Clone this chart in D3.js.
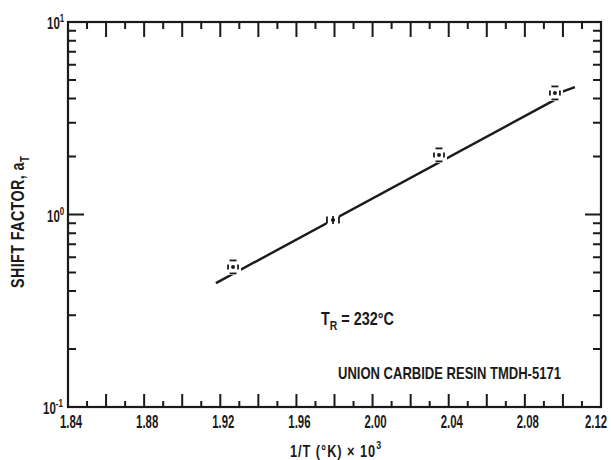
<!DOCTYPE html>
<html>
<head>
<meta charset="utf-8">
<script src="https://cdn.jsdelivr.net/npm/d3@7"></script>
</head>
<body style="margin:0;background:#fff">
<svg id="chart" width="611" height="460"></svg>
<script>
// Reciprocal absolute temperature (1/T x 10^3) and the measured shift factor a_T
const invTemp = [1.9267, 1.9792, 2.0349, 2.0958];
const shiftFactor = [0.534, 0.936, 2.04, 4.28];
const markerKind = ["box", "bar", "box", "box"];

// Fitted Arrhenius line and its short continuation past the last point
const fitX = [1.9177, 2.0984];
const fitY = [0.44, 4.07];
const tailX = [2.0994, 2.1063];
const tailY = [4.33, 4.59];

// Axis labelling
const xTickLabels = ["1.84", "1.88", "1.92", "1.96", "2.00", "2.04", "2.08", "2.12"];
const yDecades = [0.1, 1, 10];
const yDecadeExp = ["-1", "0", "1"];

const svg = d3.select("#chart");
const FONT = "'Liberation Sans', Arial, sans-serif";
const INK = "#1a1a1a";

const x = d3.scaleLinear().domain([1.84, 2.12]).range([68, 601]);
const y = d3.scaleLog().domain([0.1, 10]).range([407, 22]);
const plotL = x.range()[0], plotR = x.range()[1];
const plotB = y.range()[0], plotT = y.range()[1];

// tick positions: every 0.01 on x, 2..9 per decade plus the middle decade on y
const xTicks = d3.range(1, 28).map(i => +(1.84 + i * 0.01).toFixed(2));
const yTicks = [];
[0.1, 1].forEach(d => { for (let k = 2; k <= 9; k++) yTicks.push(+(k * d).toFixed(3)); });
yTicks.push(1);

const isLongX = v => Math.round(v * 100) % 2 === 0;
const isDecade = v => Math.abs(Math.log10(v)) < 1e-6;

// condensed lettering helper
function letter(parent, px, py, size, anchor, sx, rot) {
  const r = rot ? ` rotate(${rot})` : "";
  return parent.append("text")
    .attr("transform", `translate(${px},${py})${r} scale(${sx},1)`)
    .attr("text-anchor", anchor)
    .attr("font-family", FONT)
    .attr("font-weight", "bold")
    .attr("font-size", size)
    .attr("fill", INK);
}

// x tick labels
xTickLabels.forEach((s, i) => {
  const cx = i === xTickLabels.length - 1 ? x(+s) - 5 : x(+s) + 3;
  letter(svg, cx, 428, 19, "middle", 0.6).text(s);
});

// y decade labels 10^n
yDecades.forEach((d, i) => {
  const t = letter(svg, yDecadeExp[i].length > 1 ? 43 : 47, y(d) + 7, 16, "start", 0.72);
  t.append("tspan").text("10");
  t.append("tspan").attr("font-size", 11).attr("dy", -7).text(yDecadeExp[i]);
});

// axis titles
const xTitle = letter(svg, 290, 457, 16, "start", 0.8).attr("letter-spacing", 1.2);
xTitle.append("tspan").text("1/T (°K) × 10");
xTitle.append("tspan").attr("font-size", 11).attr("dy", -8).text("3");

const yTitle = letter(svg, 24, 288, 19, "start", 0.75, -90).attr("letter-spacing", 0.6);
yTitle.append("tspan").text("SHIFT FACTOR, a");
yTitle.append("tspan").attr("font-size", 13).attr("dy", 5).text("T");

// annotations
const tr = letter(svg, 321, 325, 18, "start", 0.8);
tr.append("tspan").text("T");
tr.append("tspan").attr("font-size", 13).attr("dy", 5).text("R");
tr.append("tspan").attr("dy", -5).text(" = 232°C");

letter(svg, 338, 379, 16.5, "start", 0.79).text("UNION CARBIDE RESIN TMDH-5171");

// fitted line
const lineGen = d3.line().x(d => x(d[0])).y(d => y(d[1]));
svg.append("path")
  .datum(d3.zip(fitX, fitY))
  .attr("d", lineGen)
  .attr("fill", "none").attr("stroke", INK).attr("stroke-width", 2.4);
svg.append("path")
  .datum(d3.zip(tailX, tailY))
  .attr("d", lineGen)
  .attr("fill", "none").attr("stroke", INK).attr("stroke-width", 2.4);

// data markers: dashed box around a dot, line broken underneath
const pts = svg.append("g").selectAll("g")
  .data(d3.zip(invTemp, shiftFactor, markerKind))
  .join("g")
  .attr("transform", d => `translate(${x(d[0])},${y(d[1])})`);

pts.append("rect")
  .attr("x", d => d[2] === "box" ? -8 : -6)
  .attr("y", d => d[2] === "box" ? -8 : -5)
  .attr("width", d => d[2] === "box" ? 16 : 12)
  .attr("height", d => d[2] === "box" ? 16 : 10)
  .attr("fill", "#fff");

const dash = (sel, ax, ay, bx, by) =>
  sel.append("line").attr("x1", ax).attr("y1", ay).attr("x2", bx).attr("y2", by)
    .attr("stroke", INK).attr("stroke-width", 1.8);

pts.filter(d => d[2] === "box").each(function () {
  const g = d3.select(this);
  dash(g, -3.5, -6.5, 3.5, -6.5);
  dash(g, -3.5, 6.5, 3.5, 6.5);
  dash(g, -5, -2.5, -5, 2.5);
  dash(g, 5, -2.5, 5, 2.5);
});
pts.filter(d => d[2] === "bar").each(function () {
  const g = d3.select(this);
  dash(g, -6, -3.5, -6, 3.5);
  dash(g, 6, -3.5, 6, 3.5);
  dash(g, 0, -4, 0, 4);
  dash(g, -2, 0, 2, 0);
});
pts.append("circle").attr("r", 2).attr("fill", INK);

// frame and inward ticks on all four sides, drawn on top
const tickPath = d3.path();
xTicks.forEach(d => {
  const px = x(d);
  tickPath.moveTo(px, plotB); tickPath.lineTo(px, plotB - (isLongX(d) ? 13 : 6));
  tickPath.moveTo(px, plotT); tickPath.lineTo(px, plotT + (isLongX(d) ? 15 : 7));
});
yTicks.forEach(d => {
  const py = y(d);
  tickPath.moveTo(plotL, py); tickPath.lineTo(plotL + (isDecade(d) ? 16 : 8), py);
  tickPath.moveTo(plotR, py); tickPath.lineTo(plotR - (isDecade(d) ? 16 : 8), py);
});
svg.append("path")
  .attr("d", tickPath.toString())
  .attr("fill", "none").attr("stroke", INK).attr("stroke-width", 2);

svg.append("rect")
  .attr("x", plotL).attr("y", plotT)
  .attr("width", plotR - plotL).attr("height", plotB - plotT)
  .attr("fill", "none").attr("stroke", INK).attr("stroke-width", 2.2);
</script>
</body>
</html>
